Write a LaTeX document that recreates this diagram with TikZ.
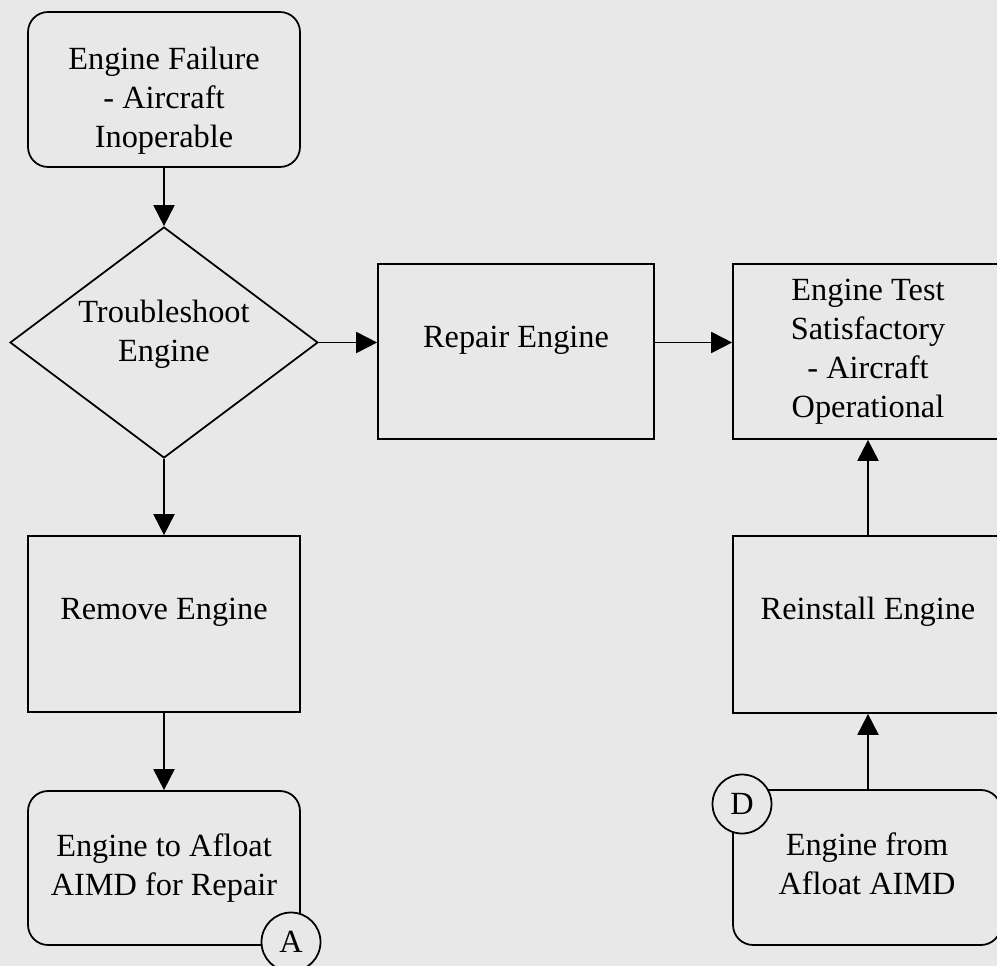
\documentclass[tikz,border=0pt]{standalone}
\usepackage{fontspec}
\setmainfont{Liberation Serif}
\usetikzlibrary{shapes.geometric,arrows.meta}
\definecolor{paper}{RGB}{232,232,232}
\tikzset{
  box/.style={draw,line width=1pt,inner sep=0pt,align=center},
  term/.style={box,rounded corners=0.4cm},
  decision/.style={box,diamond,shape aspect=1.33},
  conn/.style={circle,draw,line width=1pt,fill=paper,minimum size=1.18cm,inner sep=0pt},
  flow/.style={line width=1.1pt,-{Triangle[width=0.42cm,length=0.42cm]}}
}
\begin{document}
\begin{tikzpicture}[x=0.02cm,y=-0.02cm,font=\fontsize{18.4}{22.2}\selectfont]
      \fill[paper] (0,0) rectangle (997,966);
      \useasboundingbox (0,0) rectangle (997,966);
      \clip (0,0) rectangle (997,966);
      % left column
      \node[term,minimum width=5.44cm,minimum height=3.1cm] (fail) at (164,89.5) {};
      \node[align=center] (failtxt) at (164,101) {Engine Failure\\- Aircraft\\Inoperable};
      \node[decision,minimum width=6.16cm,minimum height=4.62cm] (trouble) at (164,342.5) {};
      \node[align=center] (troubletxt) at (164,334) {Troubleshoot\\Engine};
      \node[box,minimum width=5.44cm,minimum height=3.52cm] (remove) at (164,624) {};
      \node (removetxt) at (164,612) {Remove Engine};
      \node[term,minimum width=5.44cm,minimum height=3.08cm] (toaimd) at (164,868) {Engine to Afloat\\AIMD for Repair};
      % middle and right column
      \node[box,minimum width=5.52cm,minimum height=3.5cm] (repair) at (516,351.5) {};
      \node (repairtxt) at (516,340) {Repair Engine};
      \node[box,minimum width=5.8cm,minimum height=3.5cm] (test) at (878,351.5) {};
      \node[align=center] (testtxt) at (868,351.5) {Engine Test\\Satisfactory\\- Aircraft\\Operational};
      \node[box,minimum width=5.8cm,minimum height=3.54cm] (reinstall) at (878,624.5) {};
      \node (reinstalltxt) at (868,612) {Reinstall Engine};
      \node[term,minimum width=5.36cm,minimum height=3.1cm] (fromaimd) at (867,867.5) {};
      \node[align=center] (fromaimdtxt) at (867,864) {Engine from\\Afloat AIMD};
      % off-page connectors
      \node[conn] (conA) at (291,942) {A};
      \node[conn] (conD) at (742,804) {D};
      % arrows
      \draw[flow] (fail) -- (trouble);
      \draw[flow] (trouble) -- (remove);
      \draw[flow] (remove) -- (toaimd);
      \draw[flow] (trouble.east) -- (trouble.east -| repair.west);
      \draw[flow] (repair.east |- trouble.east) -- (test.west |- trouble.east);
      \draw[flow] (reinstalltxt |- fromaimd.north) -- (reinstalltxt |- reinstall.south);
      \draw[flow] (reinstalltxt |- reinstall.north) -- (testtxt |- test.south);
\end{tikzpicture}
\end{document}
